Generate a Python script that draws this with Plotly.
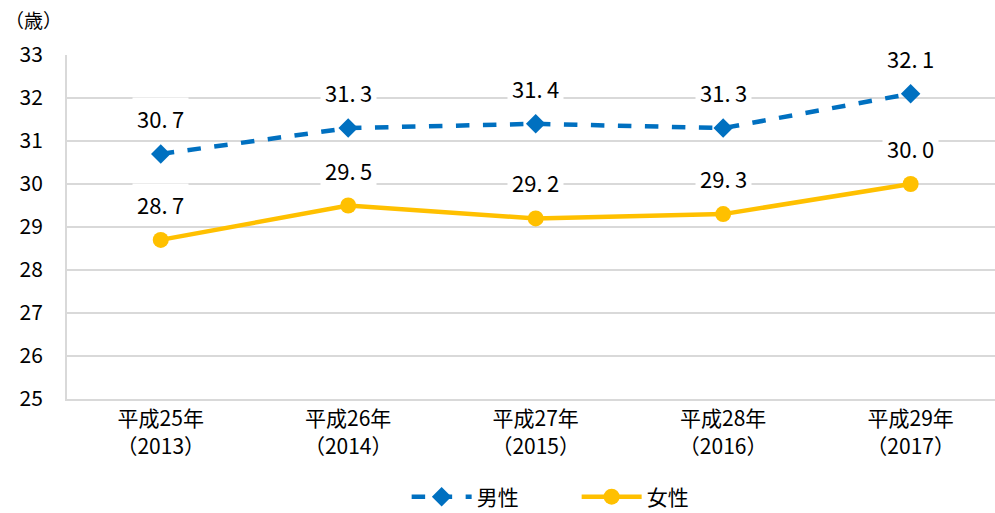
import plotly.graph_objects as go

categories = ["平成25年<br>（2013）", "平成26年<br>（2014）", "平成27年<br>（2015）",
              "平成28年<br>（2016）", "平成29年<br>（2017）"]
male = [30.7, 31.3, 31.4, 31.3, 32.1]
female = [28.7, 29.5, 29.2, 29.3, 30.0]
y_ticks = [25, 26, 27, 28, 29, 30, 31, 32, 33]

FONT = "Noto Sans CJK JP"
BLUE = "#0070C0"
GOLD = "#FFC000"
GRID = "#D9D9D9"

fig = go.Figure()

fig.add_trace(go.Scatter(
    x=list(range(len(categories))), y=male, name="男性",
    mode="lines+markers",
    line=dict(color=BLUE, width=4.5, dash="dash"),
    marker=dict(symbol="diamond", size=15, color=BLUE),
))
fig.add_trace(go.Scatter(
    x=list(range(len(categories))), y=female, name="女性",
    mode="lines+markers",
    line=dict(color=GOLD, width=4.5),
    marker=dict(symbol="circle", size=16, color=GOLD),
))

# data labels with white boxes (they hide the gridlines behind them)
for series in (male, female):
    for i, v in enumerate(series):
        fig.add_annotation(
            x=i, y=v, text=f"{v:.1f}".replace(".", ".\u2009"),
            showarrow=False, yshift=36, bgcolor="white",
            borderpad=4, font=dict(family=FONT, size=22, color="#000000"),
        )

fig.add_annotation(
    x=0, y=1, xref="paper", yref="paper", xanchor="left", yanchor="middle",
    xshift=-64, yshift=36, text="（歳）", showarrow=False,
    font=dict(family=FONT, size=19, color="#000000"),
)

fig.update_layout(
    width=995, height=513,
    margin=dict(l=67, r=0, t=55, b=114, autoexpand=False),
    plot_bgcolor="white", paper_bgcolor="white",
    font=dict(family=FONT, size=20, color="#000000"),
    showlegend=True,
    legend=dict(
        orientation="h", x=0.366, xanchor="left", y=-0.285, yanchor="middle",
        font=dict(family=FONT, size=21), itemwidth=60, entrywidth=95,
        entrywidthmode="pixels",
    ),
    xaxis=dict(
        tickmode="array", tickvals=list(range(len(categories))), ticktext=categories,
        range=[-0.5, 4.45], showgrid=False, zeroline=False,
        showline=True, linecolor=GRID, linewidth=2,
        ticks="", tickfont=dict(family=FONT, size=21),
    ),
    yaxis=dict(
        range=[25, 33], tickvals=y_ticks, showgrid=True, gridcolor=GRID, gridwidth=2,
        zeroline=False, showline=True, linecolor=GRID, linewidth=2,
        ticks="", ticklabelstandoff=18, tickfont=dict(family=FONT, size=21),
    ),
)

fig.write_html("out.html", config={"displayModeBar": False},
               post_script="document.body.style.margin='0';")
